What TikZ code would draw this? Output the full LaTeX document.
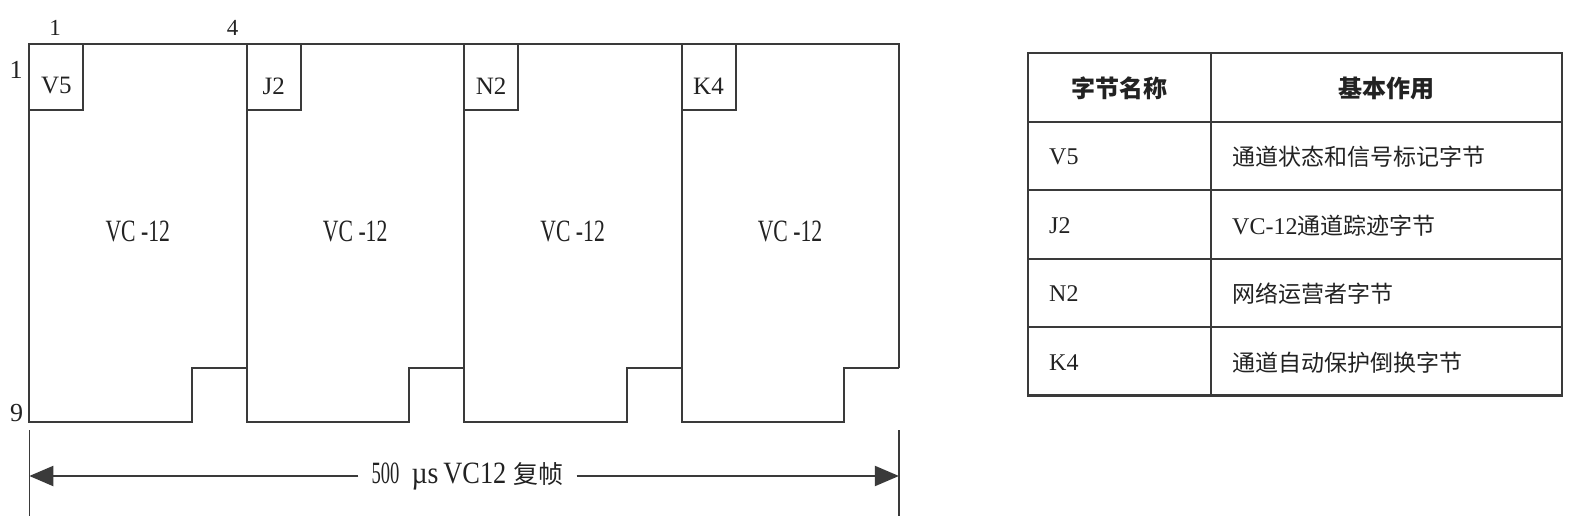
\documentclass[tikz,border=0pt]{standalone}
\usepackage{fontspec}
\setmainfont{Liberation Serif}
\newfontfamily\cjk{Noto Sans CJK SC}
\usetikzlibrary{arrows.meta}
\definecolor{ink}{HTML}{222222}
\definecolor{lin}{HTML}{3A3A3A}
\newcommand{\fsz}[1]{\fontsize{#1}{#1}\selectfont}
\begin{document}
\begin{tikzpicture}[x=1pt,y=-1pt,line join=miter,
  frameline/.style={line width=2pt,draw=lin},
  tabline/.style={line width=2.2pt,draw=lin},
  lbl/.style={inner sep=0pt,text=ink},
  cell/.style={inner sep=0pt,anchor=west,text=ink,font=\fsz{24}},
  head/.style={inner sep=0pt,text=ink,font={\cjk\bfseries\fsz{24}}},
  tick/.style={line width=1.6pt,draw=lin},
  dimarrow/.style={line width=2pt,draw=lin,-{Triangle[length=24pt,width=20pt]}}]
\useasboundingbox (0,0) rectangle (1580,525);
% ---------- frames ----------
\draw[frameline] (29.3,44) -- (898.9,44) -- (898.9,367.5);
\foreach \i/\t in {0/V5,1/J2,2/N2,3/K4}{
  \pgfmathsetmacro{\xa}{29.3+217.4*\i}
  \pgfmathsetmacro{\xb}{\xa+162.4}
  \pgfmathsetmacro{\xc}{\xa+217.4}
  \pgfmathsetmacro{\xm}{\xa+108.5}
  \pgfmathsetmacro{\xk}{\xa+27}
  \draw[frameline] (\xa,44) -- (\xa,421.7) -- (\xb,421.7) -- (\xb,367.5) -- (\xc,367.5);
  \draw[frameline] (\xa,44) rectangle (\xa+54,110);
  \node[lbl,font=\fsz{25}] (box\i) at (\xk,86) {\t};
  \node[lbl] (vc\i) at (\xm,231) {\fsz{31}\scalebox{0.7}[1]{VC -12}};
}
% ---------- axis labels ----------
\node[lbl,font=\fsz{23}] (c1) at (55,28) {1};
\node[lbl,font=\fsz{23}] (c4) at (232.5,28) {4};
\node[lbl,font=\fsz{26}] (r1) at (16,70) {1};
\node[lbl,font=\fsz{26}] (r9) at (16.5,413) {9};
% ---------- multiframe arrow ----------
\coordinate (tl0) at (29.3,430);
\coordinate (tl1) at (29.3,516);
\coordinate (tr0) at (898.9,430);
\coordinate (tr1) at (898.9,516);
\draw[tick] (tl0) -- (tl1);
\draw[tick] (tr0) -- (tr1);
\coordinate (al) at (29.3,476);
\coordinate (ar) at (898.9,476);
\node[inner xsep=13pt,inner ysep=0pt,text=ink] (mf) at (467.5,476)
  {\fsz{31}\scalebox{0.6}[1]{500}\hspace{12pt}\scalebox{0.9}[1]{µs}\hspace{5pt}\scalebox{0.85}[1]{VC12}\hspace{7pt}{\cjk\fsz{25}复帧}};
\draw[dimarrow] (mf.west) -- (al);
\draw[dimarrow] (mf.east) -- (ar);
% ---------- table ----------
\draw[tabline] (1028,53.3) rectangle (1562,395.5);
\draw[tabline] (1211,53.3) -- (1211,395.5);
\foreach \k in {1,2,3,4}{
  \draw[tabline] (1028,53.3+68.44*\k) -- (1562,53.3+68.44*\k);
}
\node[head] (h1) at (1119.5,88.5) {字节名称};
\node[head] (h2) at (1386,88.5) {基本作用};
\node[cell] (n1) at (1049,157) {V5};
\node[cell] (d1) at (1232,157) {\cjk\fsz{23}通道状态和信号标记字节};
\node[cell] (n2) at (1049,225.4) {J2};
\node[cell] (d2) at (1232,225.4) {VC-12{\cjk\fsz{23}通道踪迹字节}};
\node[cell] (n3) at (1049,293.8) {N2};
\node[cell] (d3) at (1232,293.8) {\cjk\fsz{23}网络运营者字节};
\node[cell] (n4) at (1049,362.2) {K4};
\node[cell] (d4) at (1232,362.2) {\cjk\fsz{23}通道自动保护倒换字节};
\end{tikzpicture}
\end{document}
